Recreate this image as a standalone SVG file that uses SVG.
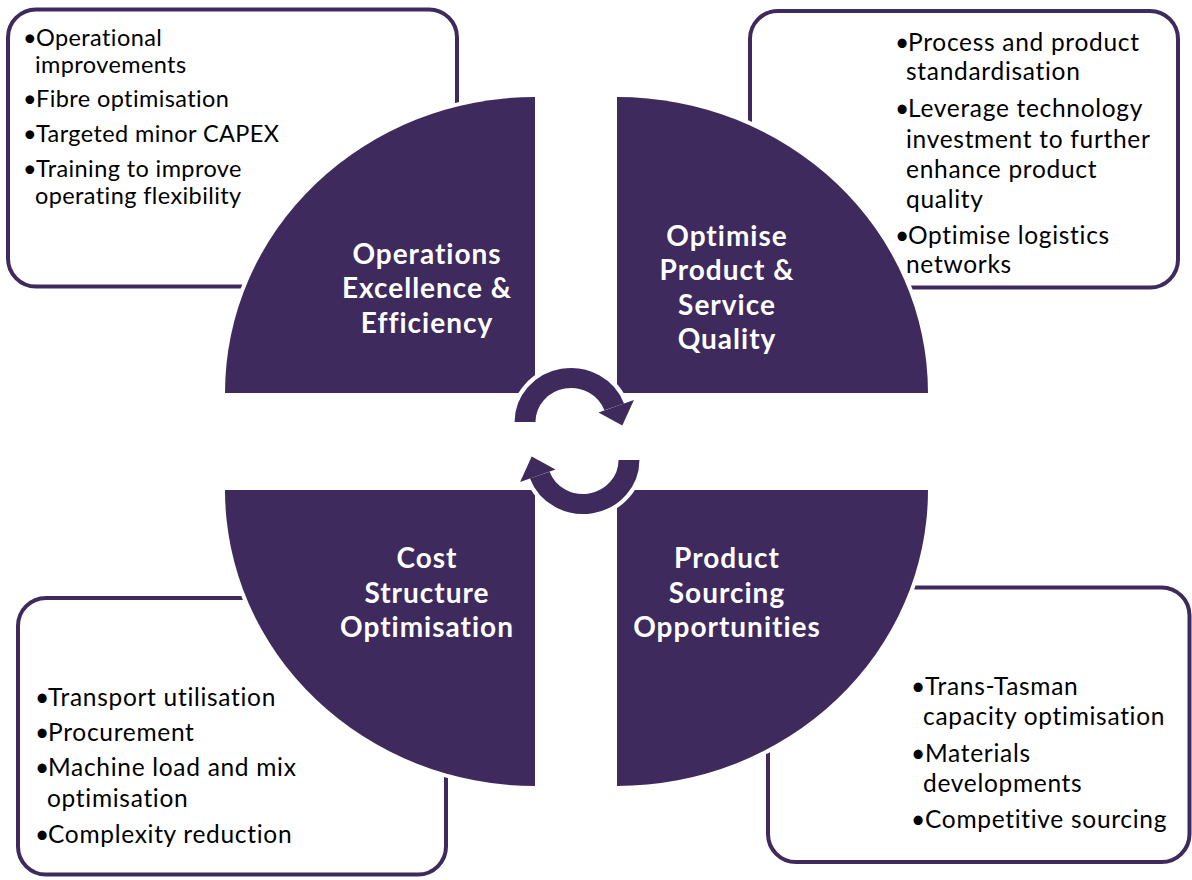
<svg xmlns="http://www.w3.org/2000/svg" width="1192" height="880" viewBox="0 0 1192 880">
  <style>
    .box { fill: #ffffff; stroke: #3E2A5D; stroke-width: 4; }
    .quad { fill: #3E2A5D; stroke: #ffffff; stroke-width: 8; paint-order: stroke; }
    .lbl { font-family: Lato, "Liberation Sans", sans-serif; font-weight: bold; font-size: 28px; letter-spacing: 1px; fill: #ffffff; text-anchor: middle; }
    .item { font-family: Lato, "Liberation Sans", sans-serif; font-size: 24.5px; letter-spacing: 0.7px; fill: #000000; }
    .item.small { font-size: 23.5px; letter-spacing: 0.4px; }
    .dot { letter-spacing: 0; }
  </style>
  <defs>
    <!-- one curved arrow of the cycle, centred on the origin -->
    <g id="cycle-arrow">
      <path d="M -44 0 A 44 44 0 0 1 41.35 -15.05" fill="none" stroke="#ffffff" stroke-width="28"/>
      <polygon points="26.3,-9.6 60.2,-21.9 49.1,3.4" fill="#ffffff" stroke="#ffffff" stroke-width="8" stroke-linejoin="round"/>
      <path d="M -44 0 A 44 44 0 0 1 41.35 -15.05" fill="none" stroke="#3E2A5D" stroke-width="20"/>
      <polygon points="26.3,-9.6 60.2,-21.9 49.1,3.4" fill="#3E2A5D"/>
    </g>
  </defs>

  <rect width="1192" height="880" fill="#ffffff"/>

  <!-- detail boxes -->
  <g id="box-operations">
    <rect class="box" x="8" y="9.5" width="449" height="277" rx="28"/>
    <text class="item small"><tspan class="dot" x="23" y="46">•</tspan><tspan x="36">Operational</tspan></text>
    <text class="item small" x="35" y="73">improvements</text>
    <text class="item small"><tspan class="dot" x="23" y="107">•</tspan><tspan x="36">Fibre optimisation</tspan></text>
    <text class="item small"><tspan class="dot" x="23" y="142">•</tspan><tspan x="36">Targeted minor CAPEX</tspan></text>
    <text class="item small"><tspan class="dot" x="23" y="177">•</tspan><tspan x="36">Training to improve</tspan></text>
    <text class="item small" x="35" y="204">operating flexibility</text>
  </g>

  <g id="box-quality">
    <rect class="box" x="750" y="11" width="428" height="276.5" rx="28"/>
    <text class="item"><tspan class="dot" x="895" y="51">•</tspan><tspan x="908">Process and product</tspan></text>
    <text class="item" x="906" y="80">standardisation</text>
    <text class="item"><tspan class="dot" x="895" y="117">•</tspan><tspan x="908">Leverage technology</tspan></text>
    <text class="item" x="906" y="148">investment to further</text>
    <text class="item" x="906" y="178">enhance product</text>
    <text class="item" x="906" y="208">quality</text>
    <text class="item"><tspan class="dot" x="895" y="244">•</tspan><tspan x="908">Optimise logistics</tspan></text>
    <text class="item" x="906" y="273">networks</text>
  </g>

  <g id="box-cost">
    <rect class="box" x="18" y="598" width="428" height="276.5" rx="28"/>
    <text class="item"><tspan class="dot" x="35" y="706">•</tspan><tspan x="48">Transport utilisation</tspan></text>
    <text class="item"><tspan class="dot" x="35" y="741">•</tspan><tspan x="48">Procurement</tspan></text>
    <text class="item"><tspan class="dot" x="35" y="776">•</tspan><tspan x="48">Machine load and mix</tspan></text>
    <text class="item" x="47" y="807">optimisation</text>
    <text class="item"><tspan class="dot" x="35" y="843">•</tspan><tspan x="48">Complexity reduction</tspan></text>
  </g>

  <g id="box-sourcing">
    <rect class="box" x="768" y="587.5" width="421.5" height="274.5" rx="28"/>
    <text class="item"><tspan class="dot" x="911" y="695">•</tspan><tspan x="925">Trans-Tasman</tspan></text>
    <text class="item" x="923" y="725">capacity optimisation</text>
    <text class="item"><tspan class="dot" x="911" y="762">•</tspan><tspan x="925">Materials</tspan></text>
    <text class="item" x="923" y="792">developments</text>
    <text class="item"><tspan class="dot" x="911" y="828">•</tspan><tspan x="925">Competitive sourcing</tspan></text>
  </g>

  <!-- quadrants -->
  <g id="quad-operations">
    <path class="quad" d="M 535 393 L 225 393 A 310 296 0 0 1 535 97 Z"/>
    <text class="lbl" x="427" y="264">Operations</text>
    <text class="lbl" x="427" y="298">Excellence &amp;</text>
    <text class="lbl" x="427" y="333">Efficiency</text>
  </g>

  <g id="quad-quality">
    <path class="quad" d="M 617 393 L 617 97 A 311 296 0 0 1 928 393 Z"/>
    <text class="lbl" x="727" y="246">Optimise</text>
    <text class="lbl" x="727" y="280">Product &amp;</text>
    <text class="lbl" x="727" y="315">Service</text>
    <text class="lbl" x="727" y="349">Quality</text>
  </g>

  <g id="quad-cost">
    <path class="quad" d="M 535 490 L 535 786 A 310 296 0 0 1 225 490 Z"/>
    <text class="lbl" x="427" y="568">Cost</text>
    <text class="lbl" x="427" y="603">Structure</text>
    <text class="lbl" x="427" y="637">Optimisation</text>
  </g>

  <g id="quad-sourcing">
    <path class="quad" d="M 617 490 L 928 490 A 311 296 0 0 1 617 786 Z"/>
    <text class="lbl" x="727" y="568">Product</text>
    <text class="lbl" x="727" y="603">Sourcing</text>
    <text class="lbl" x="727" y="637">Opportunities</text>
  </g>

  <!-- central cycle arrows -->
  <g id="connectors">
    <use href="#cycle-arrow" transform="translate(571 422) scale(1.045 1)"/>
    <use href="#cycle-arrow" transform="translate(583 460) scale(1.045 1) rotate(180)"/>
  </g>
</svg>
